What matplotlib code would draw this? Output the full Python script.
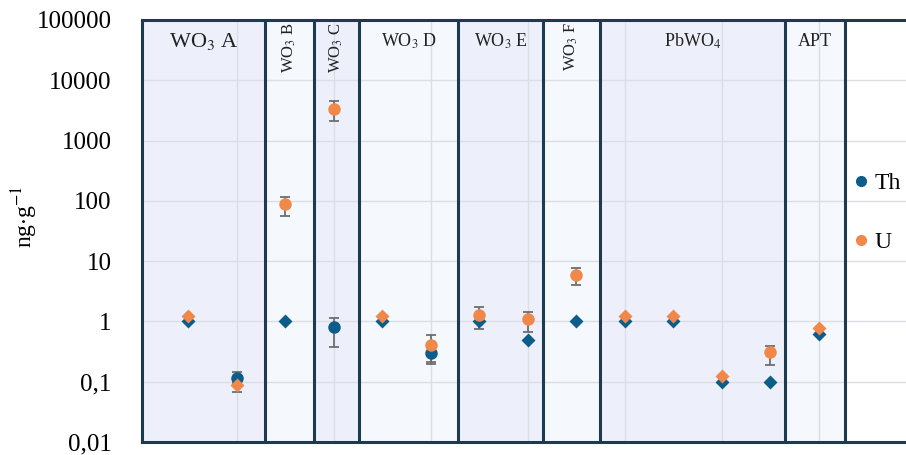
import matplotlib
matplotlib.use("Agg")
import matplotlib.pyplot as plt
from matplotlib.lines import Line2D
from matplotlib.ticker import FixedLocator, FuncFormatter
import matplotlib.transforms as mtransforms

plt.rcParams['font.family'] = ['Liberation Serif', 'DejaVu Serif']
plt.rcParams['mathtext.fontset'] = 'stix'

# ---------------- data ----------------
sample_x = [1, 2, 3, 4, 5, 6, 7, 8, 9, 10, 11, 12, 13, 14]

th_vals = [1.0, 0.115, 1.0, 0.8, 1.0, 0.3, 1.0, 0.5, 1.0, 1.0, 1.0, 0.1, 0.1, 0.62]
th_err_lo = [0, 0.02, 0, 0.42, 0, 0.1, 0, 0, 0, 0, 0, 0, 0, 0]
th_err_hi = [0, 0.028, 0, 0.36, 0, 0.1, 0, 0, 0, 0, 0, 0, 0, 0]
th_marker = ['D', 'o', 'D', 'o', 'D', 'o', 'D', 'D', 'D', 'D', 'D', 'D', 'D', 'D']

u_vals = [1.25, 0.088, 90, 3400, 1.25, 0.4, 1.26, 1.08, 5.8, 1.25, 1.25, 0.125, 0.31, 0.77]
u_err_lo = [0, 0.021, 33, 1250, 0, 0.19, 0.5, 0.4, 1.8, 0, 0, 0, 0.12, 0]
u_err_hi = [0, 0.02, 28, 1050, 0, 0.19, 0.5, 0.33, 1.8, 0, 0, 0, 0.08, 0]
u_marker = ['D', 'D', 'o', 'o', 'D', 'o', 'o', 'o', 'o', 'D', 'D', 'D', 'o', 'D']

section_names = [r'WO$_3$ A', r'WO$_3$ B', r'WO$_3$ C', r'WO$_3$ D',
                 r'WO$_3$ E', r'WO$_3$ F', r'PbWO$_4$', 'APT']
section_edges = [0.05, 2.588, 3.598, 4.526, 6.567, 8.32, 9.495, 13.31, 14.546]
section_rotated = [False, True, True, False, False, True, False, False]
section_fsize = [16, 12, 12, 13, 13, 12, 13, 13]

y_ticks = [0.01, 0.1, 1, 10, 100, 1000, 10000, 100000]
y_ticklabels = ['0,01', '0,1', '1', '10', '100', '1000', '10000', '100000']

TH_COLOR = '#0d5d8b'
U_COLOR = '#f0884a'
EDGE = '#1d3a4e'

# ---------------- figure ----------------
fig = plt.figure(figsize=(9.06, 4.55), dpi=100)
ax = fig.add_axes([142 / 906, 13 / 455, 764 / 906, 422 / 455])

ax.set_yscale('log')
ax.set_ylim(0.01, 100000)
ax.set_xlim(0.05, 15.8)

# shaded sections
shades = ['#edf0fb', '#f5f8fd']
for i in range(len(section_names)):
    ax.axvspan(section_edges[i], section_edges[i + 1],
               color=shades[i % 2], zorder=0, lw=0)

# grid
ax.yaxis.set_major_locator(FixedLocator(y_ticks))
ax.yaxis.set_major_formatter(FuncFormatter(lambda v, p: y_ticklabels[y_ticks.index(v)] if v in y_ticks else ''))
ax.yaxis.set_minor_locator(FixedLocator([]))
ax.set_xticks(range(2, 16, 2))
ax.set_xticklabels([])
ax.grid(True, which='major', color='#dcdee6', lw=1, zorder=1)
ax.tick_params(axis='both', length=0)
ax.tick_params(axis='y', labelsize=18, pad=22)

# section borders
for e in section_edges[1:]:
    ax.axvline(e, color=EDGE, lw=2.2, zorder=2)

for s in ['left', 'top', 'bottom']:
    ax.spines[s].set_color(EDGE)
    ax.spines[s].set_linewidth(2.2)
ax.spines['right'].set_visible(False)

# section labels
trans = mtransforms.blended_transform_factory(ax.transData, ax.transAxes)
for i, name in enumerate(section_names):
    cx = (section_edges[i] + section_edges[i + 1]) / 2
    if section_rotated[i]:
        ax.text(cx, 0.995, name, transform=trans, rotation=90, ha='center',
                va='top', fontsize=section_fsize[i], color='#222222', zorder=5)
    else:
        ax.text(cx, 0.95, name, transform=trans, ha='center', va='center',
                fontsize=section_fsize[i], color='#222222', zorder=5)

# data points with error bars
for i, xv in enumerate(sample_x):
    if th_err_lo[i] or th_err_hi[i]:
        ax.errorbar(xv, th_vals[i], yerr=[[th_err_lo[i]], [th_err_hi[i]]],
                    fmt='none', ecolor='#6e6e6e', elinewidth=1.3, capsize=3.5,
                    capthick=1.3, zorder=3)
    if u_err_lo[i] or u_err_hi[i]:
        ax.errorbar(xv, u_vals[i], yerr=[[u_err_lo[i]], [u_err_hi[i]]],
                    fmt='none', ecolor='#6e6e6e', elinewidth=1.3, capsize=3.5,
                    capthick=1.3, zorder=3)
    ms_th = 9 if th_marker[i] == 'o' else 7
    ms_u = 9 if u_marker[i] == 'o' else 7
    ax.plot(xv, th_vals[i], marker=th_marker[i], ms=ms_th, color=TH_COLOR,
            mec='none', ls='none', zorder=4)
    ax.plot(xv, u_vals[i], marker=u_marker[i], ms=ms_u, color=U_COLOR,
            mec='none', ls='none', zorder=4.5)

# y label
fig.text(25 / 906, 1 - 217 / 455, r'ng$\cdot$g$^{-1}$', rotation=90,
         ha='center', va='center', fontsize=17)

# legend
handles = [Line2D([], [], marker='o', ls='none', color=TH_COLOR, ms=7),
           Line2D([], [], marker='o', ls='none', color=U_COLOR, ms=7)]
fig.legend(handles, ['Th', 'U'], loc='center left',
           bbox_to_anchor=(849 / 906, 1 - 213 / 455), frameon=False,
           fontsize=17, handlelength=0.6, handletextpad=0.3,
           labelspacing=1.6, borderpad=0.2, borderaxespad=0)

fig.savefig('out.png', dpi=100)
